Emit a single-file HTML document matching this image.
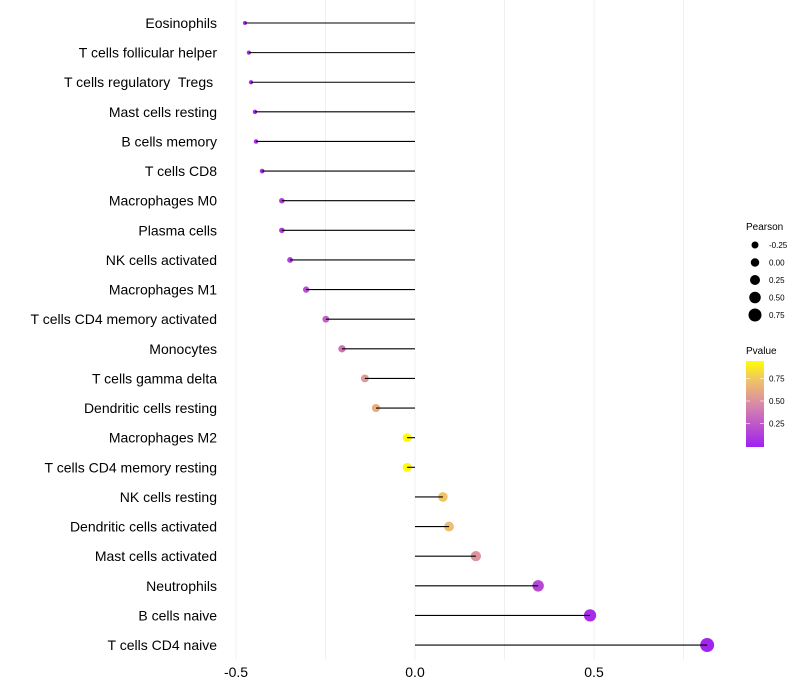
<!DOCTYPE html>
<html><head><meta charset="utf-8"><style>
body{margin:0;background:#fff;}
svg{display:block;font-family:"Liberation Sans",sans-serif;}
text{white-space:pre;}
</style></head><body>
<svg id="chart" width="800" height="700">
<defs>
<linearGradient id="pg" x1="0" y1="1" x2="0" y2="0">
<stop offset="0" stop-color="#a020f0"/>
<stop offset="0.5" stop-color="#d98aa8"/>
<stop offset="0.8" stop-color="#f2c860"/>
<stop offset="1" stop-color="#ffff00"/>
</linearGradient>
</defs>
<g id="grid"></g>
<g id="marks"></g>
<g id="ylabels"></g>
<g id="xlabels"></g>
<g id="legP">
<text x="746" y="230" font-size="10" fill="#000">Pearson</text>
</g>
<g id="legV">
<text x="746" y="354" font-size="10" fill="#000">Pvalue</text>
<rect x="746" y="361" width="18" height="86" fill="url(#pg)"/>
</g>
</svg>
<script>
const categories=["Eosinophils","T cells follicular helper","T cells regulatory  Tregs ","Mast cells resting","B cells memory","T cells CD8","Macrophages M0","Plasma cells","NK cells activated","Macrophages M1","T cells CD4 memory activated","Monocytes","T cells gamma delta","Dendritic cells resting","Macrophages M2","T cells CD4 memory resting","NK cells resting","Dendritic cells activated","Mast cells activated","Neutrophils","B cells naive","T cells CD4 naive"];
const pearson=[-0.475,-0.464,-0.458,-0.447,-0.444,-0.427,-0.372,-0.372,-0.349,-0.304,-0.249,-0.204,-0.140,-0.109,-0.022,-0.022,0.078,0.095,0.170,0.344,0.489,0.816];
const pvalues=[0.03,0.04,0.04,0.05,0.05,0.06,0.12,0.12,0.15,0.22,0.32,0.40,0.58,0.68,0.98,0.98,0.78,0.75,0.55,0.18,0.06,0.02];
const xTicks=[-0.5,0,0.5];
const xTickLabels=["-0.5","0.0","0.5"];
const minorTicks=[-0.25,0.25,0.75];
const sizeLegend=[-0.25,0,0.25,0.5,0.75];
const sizeLegendLabels=["-0.25","0.00","0.25","0.50","0.75"];
const pTicks=[0.25,0.5,0.75];
const pTickLabels=["0.25","0.50","0.75"];

const NS="http://www.w3.org/2000/svg";
const x=v=>415+v*358;
const y=i=>23+i*29.62;
const r=v=>Math.sqrt(Math.max(1,20.6+34.9*v));
const pY=p=>446-p*90;
function lerp(a,b,t){return a.map((c,i)=>Math.round(c+(b[i]-c)*t));}
function color(p){
  const st=[[0,[160,32,240]],[0.5,[217,138,168]],[0.8,[242,200,96]],[1,[255,255,0]]];
  for(let k=1;k<st.length;k++){if(p<=st[k][0]){const t=(p-st[k-1][0])/(st[k][0]-st[k-1][0]);const c=lerp(st[k-1][1],st[k][1],t);return `rgb(${c})`;}}
  return "rgb(255,255,0)";
}
function mk(tag,attrs,parent){const e=document.createElementNS(NS,tag);for(const k in attrs)e.setAttribute(k,attrs[k]);parent.appendChild(e);return e;}
const grid=document.getElementById('grid'),marks=document.getElementById('marks'),yl=document.getElementById('ylabels'),xl=document.getElementById('xlabels');
xTicks.concat(minorTicks).forEach(v=>{
  const l=mk('line',{x1:x(v),x2:x(v),y1:0,y2:660,stroke:'#f0f0f0','stroke-width':1},grid);
  
  
});
xTicks.forEach((v,i)=>{
  const t=mk('text',{x:x(v),y:677,'font-size':14,'text-anchor':'middle',fill:'#000'},xl);
  t.textContent=xTickLabels[i];
  
  
});
categories.forEach((c,i)=>{
  const t=mk('text',{x:217,y:y(i)+5,'font-size':14,'text-anchor':'end',fill:'#000'},yl);
  t.textContent=c;
  
  
  const v=pearson[i];
  const d=mk('circle',{cx:x(v),cy:y(i),r:r(v),fill:color(pvalues[i])},marks);
  
  
  const s=mk('line',{x1:x(0),x2:x(v),y1:y(i),y2:y(i),stroke:'#000','stroke-width':1.1},marks);
  
  
});
const legP=document.getElementById('legP');
sizeLegend.forEach((v,i)=>{
  const cy=245+i*17.5;
  const c=mk('circle',{cx:755,cy:cy,r:3.5+(v+0.25)*3,fill:'#000'},legP);
  
  
  const t=mk('text',{x:769,y:cy+3,'font-size':8,fill:'#000'},legP);
  t.textContent=sizeLegendLabels[i];
  
  
});
const legV=document.getElementById('legV');
pTicks.forEach((p,i)=>{
  const ln=mk('line',{x1:746,x2:750,y1:pY(p),y2:pY(p),stroke:'#fff','stroke-opacity':0.6},legV);
  
  
  const ln2=mk('line',{x1:760,x2:764,y1:pY(p),y2:pY(p),stroke:'#fff','stroke-opacity':0.6},legV);
  
  
  const t=mk('text',{x:769,y:pY(p)+3,'font-size':8,fill:'#000'},legV);
  t.textContent=pTickLabels[i];
  
  
});
</script>
</body></html>
